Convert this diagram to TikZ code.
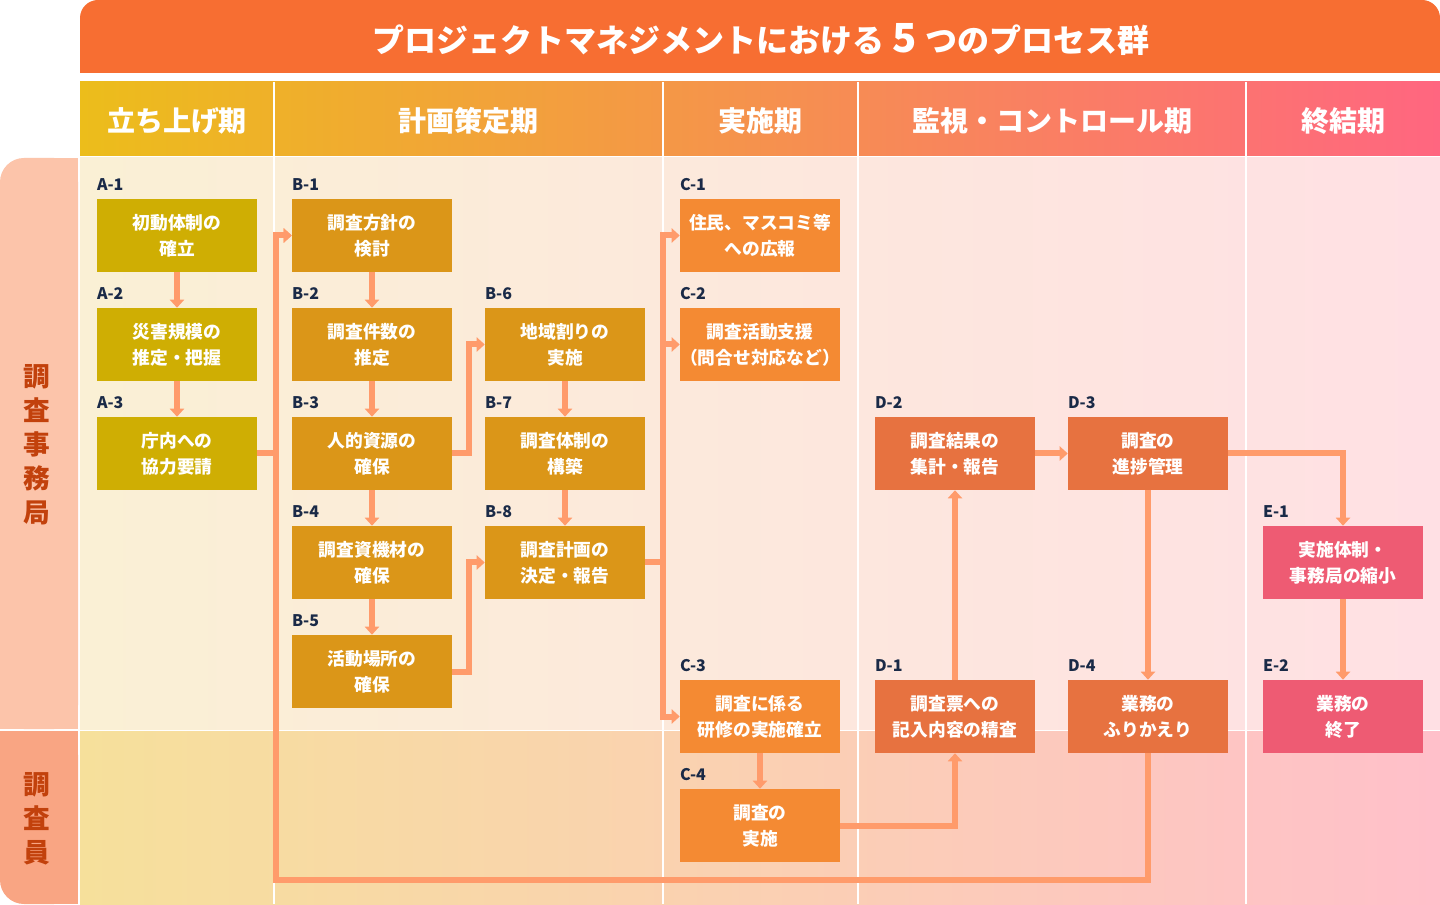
\documentclass[tikz,border=0pt]{standalone}
\usepackage{fontspec}
\setmainfont{Noto Sans CJK JP}
\usetikzlibrary{arrows.meta,positioning}
\definecolor{pmtitle}{RGB}{247,110,50}
\definecolor{pmhdL}{RGB}{236,189,27}
\definecolor{pmhdR}{RGB}{255,102,128}
\definecolor{pmrowAL}{RGB}{250,240,213}
\definecolor{pmrowAR}{RGB}{255,224,228}
\definecolor{pmrowBL}{RGB}{246,224,155}
\definecolor{pmrowBR}{RGB}{255,192,202}
\definecolor{pmside}{RGB}{252,196,170}
\definecolor{pmsideB}{RGB}{249,165,131}
\definecolor{pmsidetx}{RGB}{194,65,12}
\definecolor{pmA}{RGB}{207,174,3}
\definecolor{pmB}{RGB}{219,150,24}
\definecolor{pmC}{RGB}{244,138,51}
\definecolor{pmD}{RGB}{231,114,64}
\definecolor{pmE}{RGB}{238,91,115}
\definecolor{pmarrow}{RGB}{255,155,107}
\definecolor{pmid}{RGB}{26,42,71}

\begin{document}
\begin{tikzpicture}[x=0.75pt,y=-0.75pt,
    box/.style={minimum width=120pt,minimum height=54.75pt,inner sep=0pt,
                align=center,text=white,font=\bfseries\fontsize{13.3}{19.5}\selectfont},
    idtag/.style={anchor=south west,inner sep=0pt,yshift=6pt,fill=none,draw=none,
                text=pmid,font=\bfseries\fontsize{12}{12}\selectfont},
    hd/.style={text=white,font=\bfseries\fontsize{21}{24}\selectfont},
    side/.style={text=pmsidetx,align=center,font=\bfseries\fontsize{20}{25.5}\selectfont},
    cellsep/.style={white,line width=1.5pt},
    arr/.style={-{Triangle[width=10.5pt,length=6pt]},line width=4.5pt,color=pmarrow}
  ]
    % canvas and bands
    \fill[white] (0,0) rectangle (1440,904);
    \fill[pmtitle,rounded corners=13.5pt] (80,0) rectangle (1440,73);
    \fill[pmtitle] (80,40) rectangle (1440,73);
    \fill[left color=pmhdL,right color=pmhdR] (80,82) rectangle (1440,156);
    \fill[left color=pmrowAL,right color=pmrowAR] (80,158) rectangle (1440,729);
    \fill[left color=pmrowBL,right color=pmrowBR] (80,731) rectangle (1440,904);
    \fill[pmside,rounded corners=18pt] (0,158) rectangle (78,729);
    \fill[pmside] (40,158) rectangle (78,729);
    \fill[pmside] (0,690) rectangle (78,729);
    \fill[pmsideB,rounded corners=18pt] (0,731) rectangle (78,904);
    \fill[pmsideB] (40,731) rectangle (78,904);
    \fill[pmsideB] (0,731) rectangle (78,770);
    \foreach \x in {274,663,858,1246}
      \draw[cellsep] (\x,82) -- (\x,904);

    % titles
    \node[text=white,font=\bfseries\fontsize{24}{28}\selectfont] (title) at (761,40)
      {プロジェクトマネジメントにおける\hspace{6pt}{\fontsize{30}{30}\selectfont 5}\hspace{6pt}つのプロセス群};
    \node[hd] (h1) at (177,121) {立ち上げ期};
    \node[hd] (h2) at (468,121) {計画策定期};
    \node[hd] (h3) at (760,121) {実施期};
    \node[hd] (h4) at (1052,121) {監視・コントロール期};
    \node[hd] (h5) at (1343,121) {終結期};
    \node[side] (lab1) at (37,445) {調\\査\\事\\務\\局};
    \node[side] (lab2) at (37,819) {調\\査\\員};

    % process boxes
    \node[box,fill=pmA,label={[idtag]north west:A-1}] (a1) at (177,235.5) {初動体制の\\確立};
    \node[box,fill=pmA,label={[idtag]north west:A-2}] (a2) at (177,344.5) {災害規模の\\推定・把握};
    \node[box,fill=pmA,label={[idtag]north west:A-3}] (a3) at (177,453.5) {庁内への\\協力要請};

    \node[box,fill=pmB,label={[idtag]north west:B-1}] (b1) at (372,235.5) {調査方針の\\検討};
    \node[box,fill=pmB,label={[idtag]north west:B-2}] (b2) at (372,344.5) {調査件数の\\推定};
    \node[box,fill=pmB,label={[idtag]north west:B-3}] (b3) at (372,453.5) {人的資源の\\確保};
    \node[box,fill=pmB,label={[idtag]north west:B-4}] (b4) at (372,562.5) {調査資機材の\\確保};
    \node[box,fill=pmB,label={[idtag]north west:B-5}] (b5) at (372,671.5) {活動場所の\\確保};
    \node[box,fill=pmB,label={[idtag]north west:B-6}] (b6) at (565,344.5) {地域割りの\\実施};
    \node[box,fill=pmB,label={[idtag]north west:B-7}] (b7) at (565,453.5) {調査体制の\\構築};
    \node[box,fill=pmB,label={[idtag]north west:B-8}] (b8) at (565,562.5) {調査計画の\\決定・報告};

    \node[box,fill=pmC,label={[idtag]north west:C-1}] (c1) at (760,235.5) {住民、マスコミ等\\への広報};
    \node[box,fill=pmC,label={[idtag]north west:C-2}] (c2) at (760,344.5) {調査活動支援\\（問合せ対応など）};
    \node[box,fill=pmC,label={[idtag]north west:C-3}] (c3) at (760,716.5) {調査に係る\\研修の実施確立};
    \node[box,fill=pmC,label={[idtag]north west:C-4}] (c4) at (760,825.5) {調査の\\実施};

    \node[box,fill=pmD,label={[idtag]north west:D-2}] (d2) at (955,453.5) {調査結果の\\集計・報告};
    \node[box,fill=pmD,label={[idtag]north west:D-1}] (d1) at (955,716.5) {調査票への\\記入内容の精査};
    \node[box,fill=pmD,label={[idtag]north west:D-3}] (d3) at (1148,453.5) {調査の\\進捗管理};
    \node[box,fill=pmD,label={[idtag]north west:D-4}] (d4) at (1148,716.5) {業務の\\ふりかえり};

    \node[box,fill=pmE,label={[idtag]north west:E-1}] (e1) at (1343,562.5) {実施体制・\\事務局の縮小};
    \node[box,fill=pmE,label={[idtag]north west:E-2}] (e2) at (1343,716.5) {業務の\\終了};

    % flows
    \coordinate (ret) at (276,880);
    \draw[arr] (a1) -- (a2);
    \draw[arr] (a2) -- (a3);
    \draw[arr] (a3.east) -- ++(19,0) |- (b1.west);
    \draw[arr] (d4.south) |- (ret) |- (b1.west);
    \draw[arr] (b1) -- (b2);
    \draw[arr] (b2) -- (b3);
    \draw[arr] (b3) -- (b4);
    \draw[arr] (b4) -- (b5);
    \draw[arr] (b3.east) -- ++(17,0) |- (b6.west);
    \draw[arr] (b5.east) -- ++(17,0) |- (b8.west);
    \draw[arr] (b6) -- (b7);
    \draw[arr] (b7) -- (b8);
    \draw[arr] (b8.east) -- ++(18,0) |- (c1.west);
    \draw[arr] (b8.east) -- ++(18,0) |- (c2.west);
    \draw[arr] (b8.east) -- ++(18,0) |- (c3.west);
    \draw[arr] (c3) -- (c4);
    \draw[arr] (c4.east) -| (d1.south);
    \draw[arr] (d1) -- (d2);
    \draw[arr] (d2) -- (d3);
    \draw[arr] (d3.east) -| (e1.north);
    \draw[arr] (d3) -- (d4);
    \draw[arr] (e1) -- (e2);
\end{tikzpicture}
\end{document}
